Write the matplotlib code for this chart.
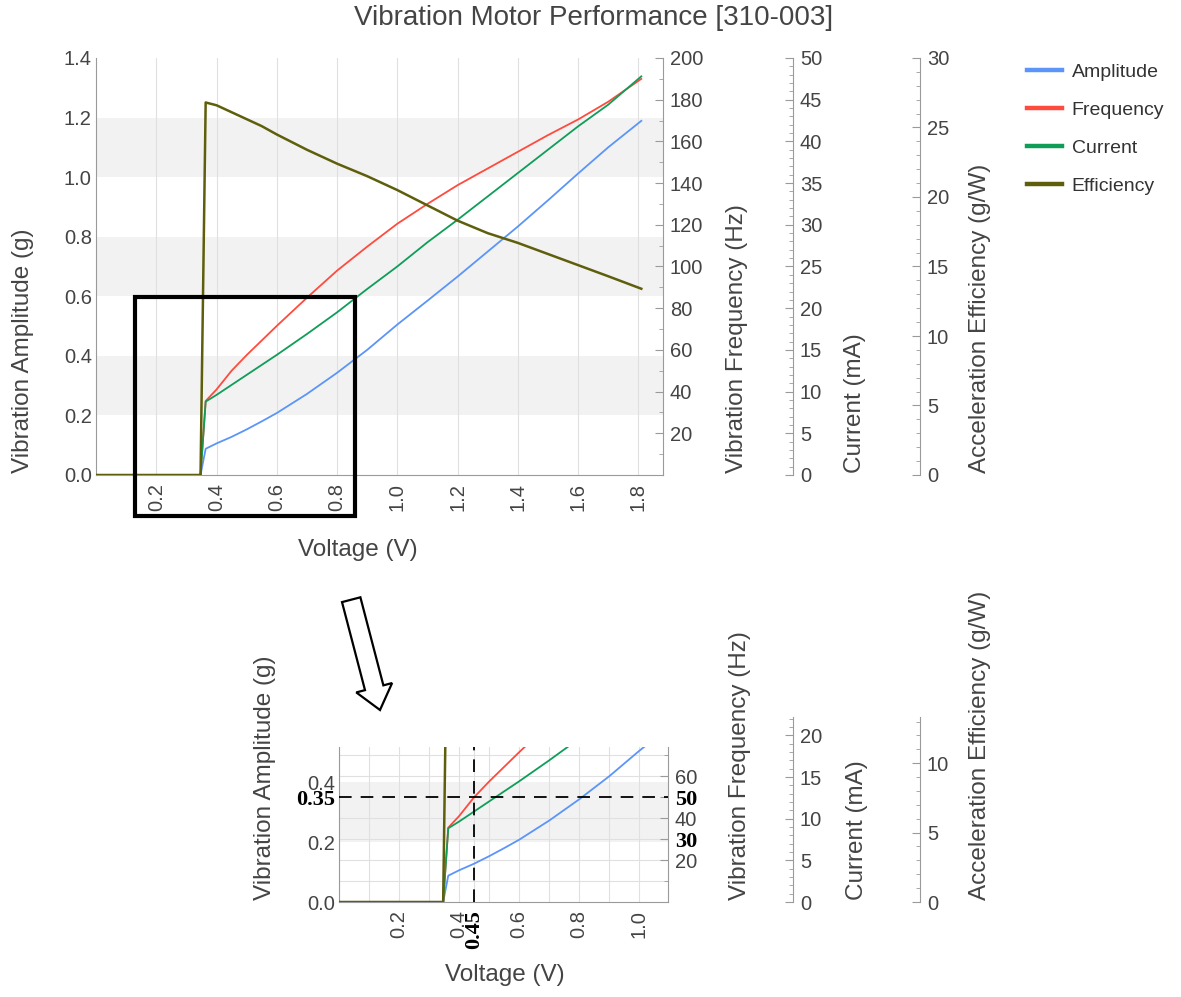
import matplotlib
matplotlib.use("Agg")
import matplotlib.pyplot as plt
from matplotlib.lines import Line2D
from matplotlib.patches import Rectangle, FancyArrow
from matplotlib.ticker import MultipleLocator, FixedLocator

plt.rcParams['font.family'] = ['Liberation Sans', 'DejaVu Sans']

voltage = [0.0, 0.1, 0.2, 0.3, 0.347, 0.364, 0.40, 0.45, 0.50, 0.55, 0.60, 0.70,
           0.80, 0.90, 1.00, 1.10, 1.20, 1.30, 1.40, 1.50, 1.60, 1.70, 1.81]
amplitude = [0, 0, 0, 0, 0, 0.088, 0.106, 0.128, 0.153, 0.180, 0.208, 0.272,
             0.343, 0.420, 0.505, 0.585, 0.666, 0.750, 0.834, 0.922, 1.012, 1.100, 1.189]
frequency = [0, 0, 0, 0, 0, 35.5, 41.0, 50.0, 57.5, 64.5, 71.5, 85.0,
             98.0, 109.5, 120.5, 130.0, 139.0, 147.0, 155.0, 163.0, 170.5, 179.0, 190.0]
current = [0, 0, 0, 0, 0, 8.8, 9.6, 10.8, 12.0, 13.2, 14.4, 16.9,
           19.5, 22.3, 25.0, 27.9, 30.6, 33.4, 36.2, 39.0, 41.8, 44.4, 47.8]
efficiency = [0, 0, 0, 0, 0, 26.8, 26.6, 26.1, 25.6, 25.1, 24.5, 23.4,
              22.4, 21.5, 20.5, 19.4, 18.3, 17.4, 16.7, 15.9, 15.1, 14.3, 13.4]

names = ['Amplitude', 'Frequency', 'Current', 'Efficiency']
colors = ['#5b95f9', '#ff4b3e', '#0f9d58', '#5e5e0c']

amp_top, freq_top, cur_top, eff_top = 1.4, 200, 50, 30
band_starts = [0.2, 0.6, 1.0]
mark_volt, mark_amp = 0.45, 0.35
mark_freqs = [30, 50]

W, H = 1181, 997
TXT = '#444444'
SPINE = '#9a9a9a'
GRID = '#e0e0e0'
BAND = '#f2f2f2'
BOLD = dict(family='Liberation Serif', weight='bold', color='black', size=16)

fig = plt.figure(figsize=(W / 100, H / 100), dpi=100)


def px_box(l, t, r, b):
    return [l / W, 1 - b / H, (r - l) / W, (b - t) / H]


def scale_axis(x, top, bottom, ymax):
    a = fig.add_axes(px_box(x - 1, top, x, bottom))
    a.patch.set_visible(False)
    a.spines[['left', 'top', 'bottom']].set_visible(False)
    a.spines['right'].set_color(SPINE)
    a.set_xticks([])
    a.set_ylim(0, ymax)
    a.yaxis.tick_right()
    a.yaxis.set_major_locator(MultipleLocator(5))
    a.yaxis.set_minor_locator(MultipleLocator(1))
    a.tick_params(axis='y', which='both', direction='in', color=SPINE,
                  labelcolor=TXT, labelsize=14.5, pad=5)
    a.tick_params(axis='y', which='major', length=6)
    a.tick_params(axis='y', which='minor', length=3)
    return a


def chart(box, xmax, ymax, xticks, yticks, fticks, fine):
    ax = fig.add_axes(px_box(*box))
    ax.set_xlim(0, xmax)
    ax.set_ylim(0, ymax)
    ax.set_axisbelow(True)
    ax.spines[['top', 'right']].set_visible(False)
    ax.spines[['left', 'bottom']].set_color(SPINE)
    ax.set_xticks(xticks, ['%.2f' % v if v == mark_volt else '%.1f' % v for v in xticks],
                  rotation=90)
    ax.set_yticks(yticks, ['%.2f' % v if v == mark_amp else '%.1f' % v for v in yticks])
    ax.tick_params(which='both', length=0, labelsize=14.5, labelcolor=TXT)
    ax.tick_params(axis='x', pad=6)
    ax.tick_params(axis='y', pad=3)
    ax.grid(axis='x', which='major', color=GRID, lw=0.8)
    if fine:
        ax.xaxis.set_minor_locator(MultipleLocator(0.1))
        ax.yaxis.set_minor_locator(MultipleLocator(10 * amp_top / freq_top))
        ax.grid(which='minor', color=GRID, lw=0.8)
    for lo in band_starts:
        ax.axhspan(lo, lo + 0.2, color=BAND, lw=0, zorder=0.1)
    ax.plot(voltage, amplitude, color=colors[0], lw=1.3)

    ax_f = ax.twinx()
    ax_f.set_ylim(0, ymax / amp_top * freq_top)
    ax_f.spines[['left', 'top', 'bottom']].set_visible(False)
    ax_f.spines['right'].set_color(SPINE)
    ax_f.yaxis.set_major_locator(FixedLocator(fticks))
    ax_f.yaxis.set_minor_locator(MultipleLocator(10))
    ax_f.tick_params(axis='y', which='both', direction='in', color=SPINE,
                     labelcolor=TXT, labelsize=14.5, pad=5)
    ax_f.tick_params(axis='y', which='major', length=6)
    ax_f.tick_params(axis='y', which='minor', length=3)
    ax_f.plot(voltage, frequency, color=colors[1], lw=1.3)

    ax_c = ax.twinx()
    ax_c.set_ylim(0, ymax / amp_top * cur_top)
    ax_c.axis('off')
    ax_c.plot(voltage, current, color=colors[2], lw=1.3)

    ax_e = ax.twinx()
    ax_e.set_ylim(0, ymax / amp_top * eff_top)
    ax_e.axis('off')
    ax_e.plot(voltage, efficiency, color=colors[3], lw=1.8)
    return ax, ax_f, ax_e


def side_labels(bottom, xs):
    labels = ['Vibration Amplitude (g)', 'Vibration Frequency (Hz)',
              'Current (mA)', 'Acceleration Efficiency (g/W)']
    for x, lab in zip(xs, labels):
        fig.text(x / W, 1 - bottom / H, lab, rotation=90, ha='center', va='bottom',
                 fontsize=17.5, color=TXT)


# ---- full range chart
ax1, ax1f, ax1e = chart((96, 58, 663, 475), 1.882, amp_top,
                        [0.2, 0.4, 0.6, 0.8, 1.0, 1.2, 1.4, 1.6, 1.8],
                        [0.0, 0.2, 0.4, 0.6, 0.8, 1.0, 1.2, 1.4],
                        list(range(20, 201, 20)), False)
scale_axis(793, 58, 475, cur_top)
scale_axis(920, 58, 475, eff_top)
side_labels(473, [23, 737, 855, 980])
fig.text(358 / W, 1 - 550 / H, 'Voltage (V)', ha='center', va='center',
         fontsize=17.5, color=TXT)

# zoom box
fig.add_artist(Rectangle((0.129, -0.139), 0.732, 0.737, fill=False, lw=3,
                         ec='black', clip_on=False, transform=ax1.transData))
fig.add_artist(FancyArrow(3.512, (H - 599.7) / 100, 0.288, -1.103, width=0.19,
                          head_width=0.37, head_length=0.23, length_includes_head=True,
                          fc='white', ec='black', lw=1.6, transform=fig.dpi_scale_trans))

# ---- zoomed chart
zoom_volt, zoom_amp = 1.096, 0.518
ax2, ax2f, ax2e = chart((339, 747, 668, 902), zoom_volt, zoom_amp,
                        [0.2, 0.4, mark_volt, 0.6, 0.8, 1.0],
                        [0.0, 0.2, mark_amp, 0.4],
                        [20, 30, 40, 50, 60], True)
for lab in ax2.get_xticklabels() + ax2.get_yticklabels():
    if lab.get_text() in ('%.2f' % mark_volt, '%.2f' % mark_amp):
        lab.set(**BOLD)
for lab in ax2f.get_yticklabels():
    if lab.get_text() in [str(f) for f in mark_freqs]:
        lab.set(**BOLD)
ax2e.axvline(mark_volt, color='black', lw=1.3, dashes=(7, 5))
ax2e.axhline(mark_amp / amp_top * eff_top, color='black', lw=1.3, dashes=(7, 5))
scale_axis(793, 717, 902, 22.2)
scale_axis(920, 717, 902, 13.33)
side_labels(900, [265, 740, 857, 980])
fig.text(505 / W, 1 - 975 / H, 'Voltage (V)', ha='center', va='center',
         fontsize=17.5, color=TXT)

# legend and title
handles = [Line2D([], [], color=c, lw=3.2) for c in colors]
fig.legend(handles, names, loc='upper left', bbox_to_anchor=(1027 / W, 1 - 63 / H),
           frameon=False, fontsize=14, handlelength=1.8, handletextpad=0.5,
           labelspacing=1.05, labelcolor='#333333', borderpad=0, borderaxespad=0)
fig.text(594 / W, 1 - 18 / H, 'Vibration Motor Performance [310-003]', ha='center',
         va='center', fontsize=20, color=TXT)

fig.savefig('out.png', dpi=100)
